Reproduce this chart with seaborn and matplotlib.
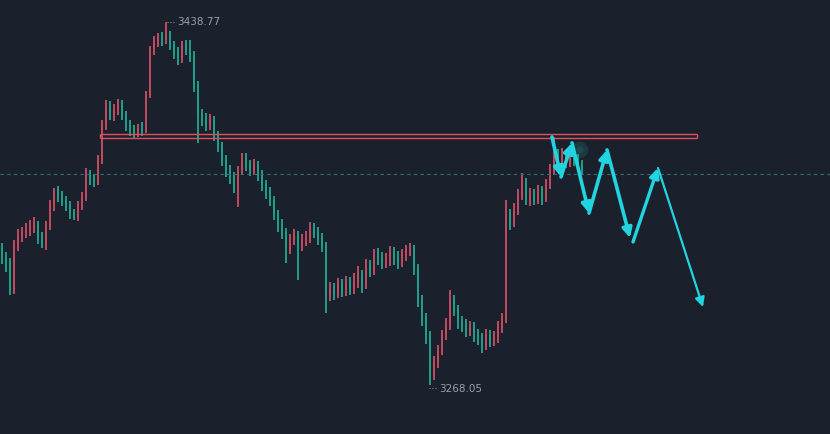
import numpy as np
import pandas as pd
import matplotlib
matplotlib.use("Agg")
import matplotlib.pyplot as plt
import seaborn as sns

# candle closes (one candle every ~4 px)
closes = [3327.8, 3325.9, 3312.7, 3333.9, 3338.6, 3340.0, 3341.0, 3341.9, 3343.3, 3337.7,
          3333.9, 3343.3, 3352.7, 3359.8, 3357.4, 3355.1, 3352.7, 3349.4, 3346.6, 3352.7,
          3356.0, 3366.8, 3365.4, 3363.5, 3373.9, 3390.3, 3399.7, 3395.0, 3397.4, 3400.7,
          3395.0, 3390.3, 3388.0, 3386.6, 3388.9, 3388.0, 3404.4, 3425.6, 3429.4, 3431.3,
          3430.3, 3432.7, 3428.0, 3424.7, 3421.8, 3428.0, 3425.6, 3423.3, 3409.1, 3395.0,
          3393.6, 3390.3, 3392.7, 3385.6, 3380.9, 3373.9, 3369.2, 3365.4, 3362.1, 3369.2,
          3374.8, 3371.5, 3369.2, 3371.5, 3366.8, 3362.1, 3358.8, 3355.1, 3348.0, 3343.3,
          3340.0, 3331.5, 3336.3, 3338.6, 3333.9, 3336.3, 3337.2, 3341.9, 3340.0, 3337.2,
          3333.9, 3310.4, 3312.7, 3311.8, 3315.1, 3312.7, 3316.0, 3313.7, 3316.5, 3319.8,
          3315.1, 3324.5, 3322.1, 3329.2, 3327.8, 3325.9, 3326.8, 3330.6, 3327.8, 3325.9,
          3329.2, 3331.5, 3332.5, 3323.1, 3308.0, 3299.6, 3291.6, 3272.8, 3278.9, 3284.5,
          3291.6, 3296.3, 3308.0, 3303.3, 3297.7, 3296.3, 3293.9, 3294.9, 3291.6, 3290.2,
          3286.9, 3291.6, 3289.2, 3290.2, 3294.9, 3298.6, 3348.0, 3344.7, 3350.4, 3357.4,
          3363.5, 3355.1, 3357.4, 3355.1, 3358.8, 3356.0, 3362.1, 3369.2, 3376.2, 3373.9,
          3376.2, 3372.9, 3374.8, 3373.9, 3371.5, 3370.1]
first_open = 3332.5

highs = [3335.0, 3330.5, 3328.0, 3336.0, 3341.5, 3342.5, 3344.0, 3345.5, 3347.0, 3345.0,
         3340.0, 3345.0, 3355.0, 3360.7, 3361.5, 3359.5, 3357.0, 3354.5, 3351.0, 3354.5,
         3359.0, 3370.1, 3369.0, 3367.5, 3376.0, 3392.5, 3402.1, 3401.5, 3400.0, 3402.6,
         3402.0, 3397.0, 3392.5, 3390.5, 3391.0, 3391.5, 3406.5, 3427.5, 3432.0, 3433.6,
         3434.0, 3438.77, 3434.5, 3430.0, 3427.0, 3430.0, 3430.5, 3430.3, 3425.0, 3411.0,
         3398.0, 3396.0, 3395.5, 3394.5, 3387.5, 3382.5, 3376.0, 3371.5, 3368.0, 3371.0,
         3377.2, 3377.0, 3374.0, 3374.5, 3373.5, 3369.0, 3364.5, 3361.0, 3357.0, 3350.5,
         3346.0, 3342.0, 3339.0, 3341.5, 3340.5, 3339.0, 3340.5, 3344.5, 3344.0, 3342.5,
         3339.5, 3335.5, 3316.5, 3316.0, 3318.5, 3318.0, 3319.5, 3319.0, 3320.5, 3324.0,
         3322.0, 3327.5, 3327.0, 3332.0, 3332.5, 3330.5, 3330.0, 3333.5, 3333.0, 3331.0,
         3332.0, 3334.0, 3335.0, 3334.0, 3325.0, 3310.5, 3302.0, 3293.5, 3281.5, 3287.0,
         3294.0, 3299.5, 3312.7, 3310.5, 3305.5, 3300.5, 3299.0, 3298.0, 3297.5, 3294.5,
         3292.5, 3294.5, 3294.0, 3293.5, 3298.0, 3302.0, 3355.1, 3351.0, 3353.5, 3360.0,
         3367.8, 3365.5, 3360.5, 3360.0, 3362.0, 3361.5, 3365.0, 3372.0, 3384.7, 3379.0,
         3379.5, 3378.5, 3378.0, 3377.5, 3376.5, 3374.0]

lows = [3325.0, 3321.0, 3310.4, 3311.0, 3331.0, 3335.5, 3337.0, 3338.0, 3339.5, 3334.5,
        3332.5, 3331.5, 3341.0, 3350.0, 3354.0, 3352.0, 3350.0, 3346.0, 3345.7, 3345.0,
        3350.5, 3354.5, 3362.0, 3361.0, 3362.0, 3372.0, 3388.0, 3392.5, 3392.0, 3395.0,
        3392.5, 3387.5, 3385.0, 3384.0, 3384.5, 3385.0, 3386.5, 3403.0, 3423.0, 3427.0,
        3427.5, 3428.5, 3425.5, 3421.5, 3418.5, 3419.5, 3423.0, 3420.0, 3406.0, 3381.9,
        3390.0, 3387.5, 3388.0, 3383.0, 3377.5, 3371.0, 3366.0, 3362.5, 3358.5, 3351.8,
        3367.0, 3368.5, 3366.5, 3367.0, 3364.0, 3359.5, 3355.5, 3352.0, 3345.5, 3340.0,
        3336.5, 3325.4, 3329.5, 3334.0, 3317.4, 3331.0, 3333.5, 3335.0, 3337.0, 3334.0,
        3330.5, 3301.9, 3307.5, 3308.0, 3309.0, 3309.5, 3310.0, 3310.5, 3311.0, 3313.5,
        3311.5, 3313.0, 3319.0, 3320.0, 3324.5, 3322.5, 3323.0, 3324.0, 3324.5, 3322.5,
        3323.5, 3326.5, 3328.5, 3320.0, 3304.5, 3296.0, 3287.5, 3268.05, 3270.5, 3276.0,
        3282.0, 3289.0, 3294.0, 3300.5, 3294.5, 3293.0, 3290.5, 3291.0, 3288.5, 3287.0,
        3283.1, 3284.5, 3286.0, 3286.5, 3288.0, 3292.5, 3297.0, 3341.0, 3342.5, 3348.0,
        3355.0, 3352.5, 3352.0, 3352.5, 3353.0, 3352.5, 3354.0, 3360.0, 3367.0, 3371.0,
        3371.5, 3370.0, 3370.5, 3371.0, 3369.0, 3367.5]

# resistance box and dashed price line
res_low, res_high = 3384.4, 3385.9
res_start, res_end = 24.5, 173.75
price_line = 3367.5

# projected zigzag (bar index, price)
zig_x = [137.5, 139.75, 142.5, 146.75, 151.25, 157.0]
zig_y = [3384.7, 3365.9, 3381.9, 3348.9, 3378.6, 3337.2]
zig2_x = [157.75, 164.0, 175.25]
zig2_y = [3335.3, 3370.1, 3304.7]

bg = "#1b202d"
up_col = "#c04a5e"
down_col = "#1f9e89"
cyan = "#22d3e0"

sns.set_style("dark", {"axes.facecolor": bg, "figure.facecolor": bg})

df = pd.DataFrame({"open": [first_open] + closes[:-1], "close": closes,
                   "high": highs, "low": lows})
df["x"] = np.arange(len(df))
colors = np.where(df["close"] >= df["open"], up_col, down_col)

fig = plt.figure(figsize=(8.3, 4.34), dpi=100)
ax = fig.add_axes([0, 0, 1, 1])
ax.set_facecolor(bg)

# wicks and bodies
ax.vlines(df["x"], df["low"], df["high"], color=colors, lw=1.4)
body = (df["close"] - df["open"]).abs().clip(lower=0.6)
ax.bar(df["x"], body, bottom=df[["open", "close"]].min(axis=1), width=0.7,
       color=colors, linewidth=0)

# dashed price line
ax.axhline(price_line, color="#2f6f72", lw=0.8, ls=(0, (3, 3)))

# resistance box
ax.hlines([res_low, res_high], res_start, res_end, color="#e0505c", lw=1)
ax.vlines([res_start, res_end], res_low, res_high, color="#e0505c", lw=1)

# zigzag arrows
for xs, ys, lws in [(zig_x, zig_y, [2.6] * 5), (zig2_x, zig2_y, [2.4, 1.6])]:
    for k in range(len(xs) - 1):
        ax.annotate("", xy=(xs[k + 1], ys[k + 1]), xytext=(xs[k], ys[k]),
                    arrowprops=dict(arrowstyle="-|>", color=cyan, lw=lws[k],
                                    mutation_scale=14, shrinkA=0, shrinkB=0))

# faint glow of last price
sns.scatterplot(x=[144.5, 144.5], y=[3378.6, 3378.6], s=[140, 25], color="#27c4b0",
                alpha=0.15, linewidth=0, ax=ax, legend=False)

# high / low labels
hi_i = int(df["high"].idxmax())
lo_i = int(df["low"].idxmin())
ax.hlines(df.loc[hi_i, "high"], hi_i + 0.3, hi_i + 2.6, color="#8a8f99", lw=0.8, ls=":")
ax.text(hi_i + 2.9, df.loc[hi_i, "high"], f"{df.loc[hi_i, 'high']:.2f}",
        color="#9a9ea8", fontsize=7.5, va="center", ha="left")
ax.hlines(df.loc[lo_i, "low"] - 1.5, lo_i - 0.2, lo_i + 2.0, color="#8a8f99", lw=0.8, ls=":")
ax.text(lo_i + 2.3, df.loc[lo_i, "low"] - 1.8, f"{df.loc[lo_i, 'low']:.2f}",
        color="#9a9ea8", fontsize=7.5, va="center", ha="left")

ax.set_xlim(-0.5, 207)
ax.set_ylim(3245.0, 3449.1)
ax.set_xticks([])
ax.set_yticks([])
for s in ax.spines.values():
    s.set_visible(False)
ax.grid(False)

fig.savefig("out.png", dpi=100, facecolor=bg)
